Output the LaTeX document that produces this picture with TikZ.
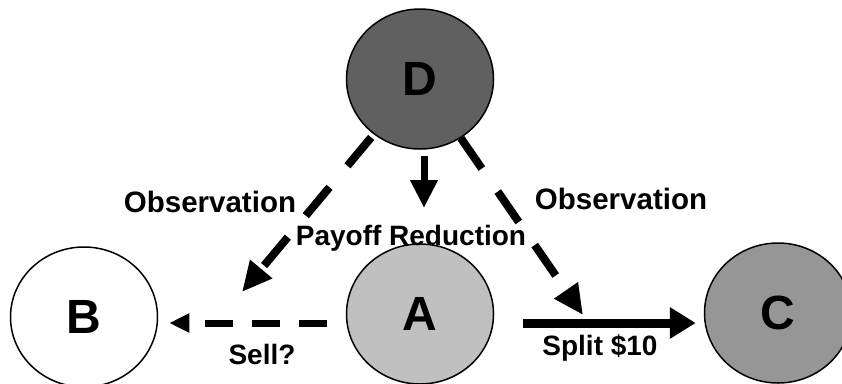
\documentclass[tikz,border=0pt]{standalone}
\usepackage{fontspec}
\setmainfont{Liberation Sans}
\usetikzlibrary{shapes.geometric,arrows.meta}

\begin{document}
\begin{tikzpicture}[x=1pt,y=-1pt,
		player/.style={ellipse,draw,line width=1.5pt,minimum width=147pt,minimum height=140pt,
			font=\fontsize{48}{48}\selectfont\bfseries},
		lbl/.style={font=\fontsize{28}{28}\selectfont\bfseries,anchor=base},
		obs/.style={line width=8pt,dash pattern=on 37pt off 28pt,-{Triangle[length=30pt,width=27pt]}},
		pay/.style={line width=7pt,-{Triangle[length=28pt,width=26pt]}},
		sell/.style={line width=7pt,dash pattern=on 28pt off 19pt,-{Triangle[length=20pt,width=18pt]}},
		split/.style={line width=9pt,-{Triangle[length=26pt,width=30pt]}}]
		\useasboundingbox (0,0) rectangle (842,383);
		\clip (0,0) rectangle (842,383);
		\node[player,fill={rgb,255:red,96;green,96;blue,96}](D) at (420,79){D};
		\node[player,fill={rgb,255:red,192;green,192;blue,192}](A) at (420,314){A};
		\node[player,fill=white](B) at (84,317){B};
		\node[player,fill={rgb,255:red,150;green,150;blue,150}](C) at (778,313){C};
		\coordinate (bTip) at (242,292);
		\coordinate (cTip) at (583,315);
		\coordinate (aTip) at (424,208);
		\draw[obs,shorten <=4pt] (D) -- (bTip);
		\draw[obs] (D) -- (cTip);
		\draw[pay,shorten <=6pt] (D.south -| aTip) -- (aTip);
		\draw[sell,shorten <=19pt,shorten >=11pt] ([yshift=-9pt]A.west) -- ([yshift=-6pt]B.east);
		\draw[split,shorten <=29pt,shorten >=8pt] ([yshift=-9pt]A.east) -- ([yshift=-10pt]C.west);
		\node[lbl,font=\fontsize{29.5}{30}\selectfont\bfseries](obsB) at (210,212){Observation};
		\node[lbl,font=\fontsize{29.5}{30}\selectfont\bfseries](obsC) at (621,209){Observation};
		\node[lbl](payoff) at (411,245){Payoff Reduction};
		\node[lbl](sellLbl) at (262,364){Sell?};
		\node[lbl](splitLbl) at (600,355){Split \$10};
	\end{tikzpicture}
\end{document}
